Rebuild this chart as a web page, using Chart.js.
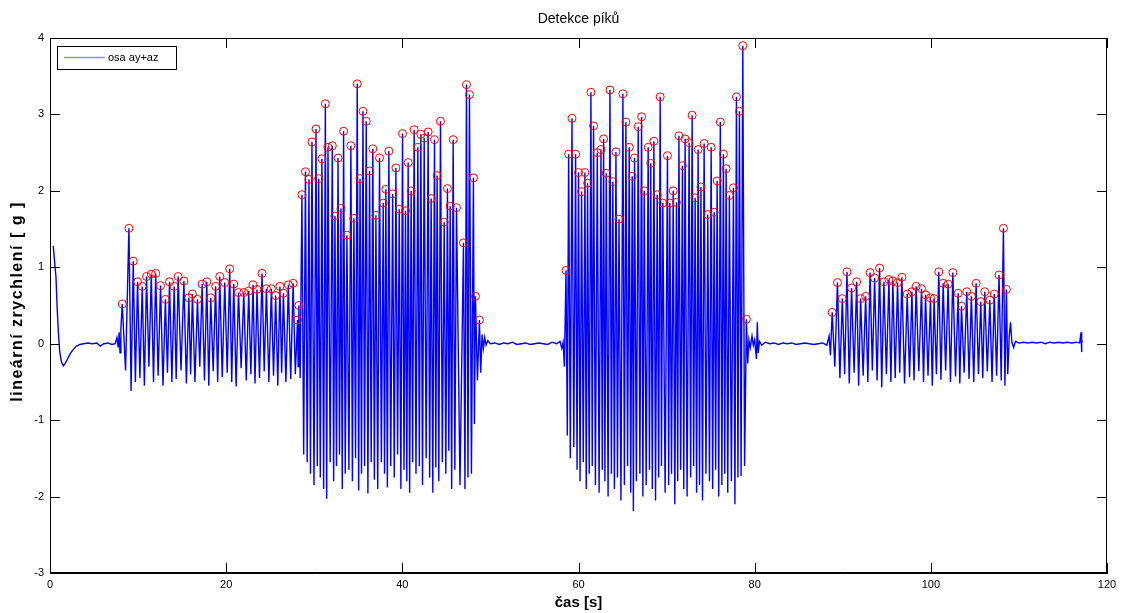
<!DOCTYPE html>
<html>
<head>
<meta charset="utf-8">
<script src="https://cdn.jsdelivr.net/npm/chart.js@4/dist/chart.umd.min.js"></script>
<style>
  html, body { margin: 0; padding: 0; background: #fff; }
  #box { width: 1129px; height: 613px; position: relative; }
</style>
</head>
<body>
<div id="box"><canvas id="graf"></canvas></div>
<script>
// Popisky //
const TITULEK = "Detekce píků";
const OSA_X = "čas [s]";
const OSA_Y = "lineární zrychlení [ g ]";
const LEGENDA = "osa ay+az";

// Osy //
const xMin = 0, xMax = 120, xKrok = 20;
const yMin = -3, yMax = 4, yKrok = 1;

// Klidové úseky signálu (čas, hodnota) //
const klidStartT = [0.37, 0.5, 0.68, 0.8, 0.94, 1.1, 1.3, 1.5, 1.7, 2.0, 2.3, 2.6, 3.0, 3.4, 3.8, 4.3, 4.8, 5.3, 5.7, 6.1, 6.6, 7.0, 7.4, 7.6, 7.75, 7.85, 7.95, 8.05];
const klidStartV = [1.28, 1.1, 0.87, 0.5, 0.17, -0.1, -0.24, -0.29, -0.26, -0.2, -0.13, -0.08, -0.03, -0.01, 0.0, 0.01, 0.0, 0.01, -0.03, 0.0, 0.01, -0.01, 0.0, 0.08, -0.05, 0.15, -0.12, 0.2];

const klid2T = [49.05, 49.2, 49.35, 49.5, 49.7, 50.0, 50.5, 51.0, 51.5, 52.0, 52.5, 53.0, 53.5, 54.0, 54.5, 55.0, 55.5, 56.0, 56.5, 57.0, 57.5, 57.9, 58.1, 58.25, 58.4];
const klid2V = [0.12, -0.06, 0.08, -0.02, 0.04, 0.0, 0.01, -0.01, 0.01, 0.0, 0.02, -0.01, 0.0, 0.01, -0.01, 0.0, 0.01, 0.0, -0.01, 0.02, 0.0, 0.03, -0.06, 0.02, -0.3];

const klid3T = [79.35, 79.5, 79.7, 79.85, 80.0, 80.2, 80.3, 80.4, 80.55, 80.8, 81.2, 81.7, 82.2, 82.7, 83.2, 83.7, 84.2, 84.7, 85.2, 85.7, 86.2, 86.7, 87.2, 87.7, 88.2, 88.45, 88.6];
const klid3V = [0.05, -0.05, 0.1, -0.02, 0.05, -0.2, 0.28, -0.12, 0.03, -0.02, 0.02, 0.0, 0.01, -0.01, 0.01, 0.0, 0.01, -0.01, 0.0, 0.01, 0.0, -0.01, 0.0, 0.01, -0.02, 0.1, -0.15];

const klidKonecT = [108.9, 109.05, 109.2, 109.4, 109.6, 110.0, 110.5, 111.0, 111.5, 112.0, 112.5, 113.0, 113.5, 114.0, 114.5, 115.0, 115.5, 116.0, 116.5, 116.9, 117.05, 117.1, 117.15, 117.2];
const klidKonecV = [0.1, 0.28, 0.02, -0.05, 0.03, 0.01, 0.02, 0.01, 0.02, 0.01, 0.02, 0.0, 0.02, 0.01, 0.02, 0.01, 0.02, 0.01, 0.02, 0.01, 0.15, -0.11, 0.05, 0.02];

// Úsek 1 - detekované píky a minima za nimi //
const piky1T = [8.2, 8.96, 9.45, 9.94, 10.47, 10.96, 11.5, 12.0, 12.55, 13.1, 13.57, 14.1, 14.55, 15.2, 15.76, 16.17, 16.74, 17.27, 17.8, 18.25, 18.8, 19.27, 19.84, 20.4, 20.86, 21.4, 22.0, 22.56, 23.05, 23.5, 24.07, 24.57, 25.13, 25.62, 26.1, 26.5, 27.06, 27.6, 28.1, 28.25];
const piky1V = [0.52, 1.51, 1.08, 0.81, 0.75, 0.88, 0.91, 0.92, 0.76, 0.58, 0.81, 0.75, 0.88, 0.82, 0.60, 0.65, 0.58, 0.78, 0.81, 0.60, 0.75, 0.88, 0.80, 0.98, 0.78, 0.67, 0.67, 0.69, 0.77, 0.71, 0.92, 0.72, 0.72, 0.63, 0.75, 0.66, 0.77, 0.79, 0.31, 0.50];
const minima1 = [-0.35, -0.62, -0.5, -0.45, -0.55, -0.3, -0.5, -0.42, -0.55, -0.38, -0.5, -0.46, -0.35, -0.52, -0.4, -0.5, -0.3, -0.48, -0.55, -0.36, -0.5, -0.44, -0.38, -0.5, -0.56, -0.32, -0.48, -0.4, -0.52, -0.45, -0.36, -0.5, -0.42, -0.55, -0.38, -0.5, -0.46, -0.4, -0.3, -0.45];

// Úsek 2 //
const piky2T = [28.6, 29.0, 29.4, 29.74, 30.2, 30.5, 30.87, 31.26, 31.56, 32.05, 32.35, 32.7, 33.03, 33.33, 33.71, 34.16, 34.5, 34.88, 35.2, 35.53, 35.9, 36.28, 36.65, 37.0, 37.41, 37.83, 38.13, 38.47, 38.9, 39.27, 39.65, 40.02, 40.36, 40.66, 41.0, 41.34, 41.76, 42.1, 42.48, 42.93, 43.27, 43.65, 43.95, 44.33, 44.75, 45.12, 45.43, 45.77, 46.15, 46.94, 47.28, 47.62, 48.07, 48.3, 48.75];
const piky2V = [1.95, 2.25, 2.15, 2.64, 2.81, 2.16, 2.42, 3.14, 2.57, 2.59, 1.67, 2.43, 1.77, 2.78, 1.42, 2.59, 1.64, 3.40, 2.16, 3.04, 2.91, 2.26, 2.55, 1.68, 2.43, 1.84, 2.02, 2.52, 1.96, 2.30, 1.76, 2.75, 1.74, 2.37, 2.00, 2.80, 2.57, 2.74, 2.69, 2.77, 1.90, 2.67, 2.20, 2.91, 1.59, 2.03, 1.80, 2.67, 1.78, 1.32, 3.39, 3.26, 2.17, 0.62, 0.31];
const minima2 = [-1.45, -1.55, -1.7, -1.85, -1.6, -1.75, -1.9, -2.03, -1.55, -1.8, -1.6, -1.45, -1.9, -1.7, -1.65, -1.8, -1.5, -1.92, -1.7, -1.6, -1.96, -1.55, -1.78, -1.9, -1.55, -1.7, -1.88, -1.6, -1.75, -1.45, -1.9, -1.65, -1.8, -1.95, -1.55, -1.7, -1.6, -1.85, -1.5, -1.75, -1.95, -1.62, -1.8, -1.55, -1.7, -1.4, -1.9, -1.65, -1.85, -1.9, -1.75, -1.7, -1.05, -0.48, -0.38];

// Úsek 3 //
const piky3T = [58.58, 58.88, 59.26, 59.67, 60.0, 60.35, 60.73, 61.03, 61.41, 61.71, 62.13, 62.55, 62.85, 63.15, 63.57, 63.9, 64.25, 64.6, 65.04, 65.38, 65.76, 66.1, 66.36, 66.78, 67.16, 67.46, 67.91, 68.2, 68.56, 68.93, 69.27, 69.57, 70.1, 70.37, 70.75, 71.12, 71.4, 71.8, 72.1, 72.56, 72.9, 73.24, 73.58, 73.9, 74.26, 74.68, 75.06, 75.4, 75.74, 76.1, 76.45, 76.76, 77.13, 77.59, 77.93, 78.27, 78.65, 79.06];
const piky3V = [0.96, 2.48, 2.95, 2.48, 2.24, 1.99, 2.24, 2.10, 3.29, 2.85, 2.50, 2.54, 2.68, 2.23, 3.32, 2.12, 2.51, 1.63, 3.27, 2.90, 2.57, 2.19, 2.43, 2.84, 2.97, 2.00, 2.57, 2.36, 2.65, 1.95, 3.23, 1.84, 2.46, 1.84, 2.00, 1.85, 2.72, 2.33, 2.68, 2.63, 2.99, 1.91, 2.54, 2.05, 2.62, 1.69, 2.57, 1.72, 2.13, 2.90, 2.48, 2.29, 1.94, 2.04, 3.23, 3.04, 3.90, 0.32];
const minima3 = [-1.2, -1.5, -1.35, -1.65, -1.8, -1.55, -1.9, -1.7, -1.6, -1.85, -1.95, -1.65, -1.8, -2.0, -1.7, -1.9, -1.75, -2.05, -1.85, -1.6, -1.95, -2.19, -1.8, -1.7, -2.0, -1.85, -1.65, -1.9, -2.05, -1.75, -1.6, -1.95, -1.85, -1.7, -2.1, -1.8, -1.65, -1.9, -2.0, -1.75, -1.6, -1.95, -1.85, -2.05, -1.7, -1.8, -1.9, -1.65, -2.0, -1.85, -1.7, -1.95, -1.8, -2.1, -1.75, -1.73, -1.6, -0.26];

// Úsek 4 //
const piky4T = [88.8, 89.4, 89.95, 90.48, 91.0, 91.58, 92.03, 92.6, 93.1, 93.62, 94.18, 94.67, 95.24, 95.69, 96.22, 96.71, 97.32, 97.85, 98.33, 98.94, 99.4, 99.96, 100.37, 100.9, 101.4, 101.96, 102.5, 103.1, 103.48, 104.08, 104.6, 105.14, 105.67, 106.12, 106.7, 107.2, 107.74, 108.24, 108.58];
const piky4V = [0.41, 0.80, 0.59, 0.94, 0.73, 0.81, 0.59, 0.62, 0.93, 0.86, 0.99, 0.81, 0.84, 0.82, 0.80, 0.87, 0.65, 0.68, 0.75, 0.72, 0.64, 0.60, 0.59, 0.94, 0.79, 0.78, 0.93, 0.66, 0.49, 0.68, 0.62, 0.79, 0.55, 0.68, 0.57, 0.65, 0.90, 1.51, 0.71];
const minima4 = [-0.3, -0.45, -0.4, -0.52, -0.38, -0.55, -0.42, -0.5, -0.35, -0.48, -0.57, -0.4, -0.5, -0.45, -0.38, -0.52, -0.44, -0.48, -0.36, -0.5, -0.42, -0.55, -0.4, -0.47, -0.35, -0.5, -0.43, -0.52, -0.38, -0.46, -0.5, -0.4, -0.45, -0.36, -0.5, -0.42, -0.48, -0.55, -0.4];

// Skládání signálu //
function klid(ts, vs) {
  return ts.map((t, i) => ({ x: t, y: vs[i] }));
}

// pík, pak minimum mezi ním a dalším píkem
function usek(ts, vs, mins) {
  const body = [];
  ts.forEach((t, i) => {
    body.push({ x: t, y: vs[i] });
    if (mins[i] === undefined) return;
    const tMin = i < ts.length - 1 ? (t + ts[i + 1]) / 2 : t + 0.15;
    body.push({ x: tMin, y: mins[i] });
  });
  return body;
}

const signal = [].concat(
  klid(klidStartT, klidStartV),
  usek(piky1T, piky1V, minima1),
  usek(piky2T, piky2V, minima2),
  klid(klid2T, klid2V),
  usek(piky3T, piky3V, minima3),
  klid(klid3T, klid3V),
  usek(piky4T, piky4V, minima4),
  klid(klidKonecT, klidKonecV)
);

const piky = [].concat(
  klid(piky1T, piky1V), klid(piky2T, piky2V),
  klid(piky3T, piky3V), klid(piky4T, piky4V)
);

const PISMO = '"Liberation Sans", Arial, sans-serif';

// Titulek, popisek osy y, rámeček, vnitřní značky a legenda ve stylu MATLABu //
const matlabStyl = {
  id: 'matlabStyl',
  afterDraw(chart) {
    const { ctx, chartArea: a, scales } = chart;
    ctx.save();
    ctx.strokeStyle = '#000';
    ctx.lineWidth = 1;
    ctx.strokeRect(a.left + 0.5, a.top + 0.5, a.right - a.left - 1, a.bottom - a.top - 1);

    const delka = 10;
    ctx.beginPath();
    scales.x.ticks.forEach(t => {
      const px = Math.round(scales.x.getPixelForValue(t.value)) + 0.5;
      ctx.moveTo(px, a.bottom); ctx.lineTo(px, a.bottom - delka);
      ctx.moveTo(px, a.top); ctx.lineTo(px, a.top + delka);
    });
    scales.y.ticks.forEach(t => {
      const py = Math.round(scales.y.getPixelForValue(t.value)) + 0.5;
      ctx.moveTo(a.left, py); ctx.lineTo(a.left + delka, py);
      ctx.moveTo(a.right, py); ctx.lineTo(a.right - delka, py);
    });
    ctx.stroke();

    // titulek
    ctx.fillStyle = '#000';
    ctx.font = '14px ' + PISMO;
    ctx.textAlign = 'center';
    ctx.textBaseline = 'middle';
    ctx.fillText(TITULEK, (a.left + a.right) / 2, 19);

    // popisek osy y (MATLAB ho má dost roztažený)
    ctx.save();
    ctx.translate(18, (a.top + a.bottom) / 2 - 4);
    ctx.rotate(-Math.PI / 2);
    ctx.font = 'bold 16px ' + PISMO;
    ctx.letterSpacing = '1.5px';
    ctx.fillText(OSA_Y, 0, 0);
    ctx.restore();

    // legenda
    const lx = a.left + 7, ly = a.top + 8, lw = 119, lh = 23;
    ctx.fillStyle = '#fff';
    ctx.fillRect(lx, ly, lw, lh);
    ctx.strokeRect(lx + 0.5, ly + 0.5, lw, lh);
    ctx.strokeStyle = '#8f8fff';
    ctx.lineWidth = 1.5;
    ctx.beginPath();
    ctx.moveTo(lx + 7, ly + 11.5); ctx.lineTo(lx + 48, ly + 11.5);
    ctx.stroke();
    ctx.fillStyle = '#000';
    ctx.font = '11px ' + PISMO;
    ctx.textAlign = 'left';
    ctx.fillText(LEGENDA, lx + 51, ly + 12);
    ctx.restore();
  }
};

const ctx = document.getElementById('graf');
new Chart(ctx, {
  type: 'line',
  data: {
    datasets: [
      {
        label: LEGENDA,
        data: signal,
        borderColor: '#0000ff',
        borderWidth: 1.4,
        pointRadius: 0,
        tension: 0,
        order: 2
      },
      {
        label: 'píky',
        data: piky,
        showLine: false,
        pointStyle: 'circle',
        pointRadius: 4,
        pointBorderWidth: 1,
        pointBorderColor: '#ff0000',
        pointBackgroundColor: 'rgba(0,0,0,0)',
        order: 1
      }
    ]
  },
  options: {
    responsive: true,
    maintainAspectRatio: false,
    animation: false,
    parsing: false,
    layout: { padding: { top: 38, right: 22, left: 0, bottom: 0 } },
    plugins: {
      legend: { display: false },
      title: { display: false },
      tooltip: { enabled: false }
    },
    scales: {
      x: {
        type: 'linear',
        min: xMin, max: xMax,
        ticks: { stepSize: xKrok, color: '#000', padding: 5, maxRotation: 0, font: { size: 11, family: PISMO } },
        grid: { display: false, drawTicks: false },
        border: { display: true, color: '#000' },
        title: { display: true, text: OSA_X, color: '#000', padding: { top: 0, bottom: 1 }, font: { size: 15, weight: 'bold', family: PISMO } },
        afterFit: s => { s.height = 40; }
      },
      y: {
        type: 'linear',
        min: yMin, max: yMax,
        ticks: { stepSize: yKrok, color: '#000', padding: 6, font: { size: 11, family: PISMO } },
        grid: { display: false, drawTicks: false },
        border: { display: true, color: '#000' },
        title: { display: false },
        afterFit: s => { s.width = 50; }
      }
    }
  },
  plugins: [matlabStyl]
});
</script>
</body>
</html>
